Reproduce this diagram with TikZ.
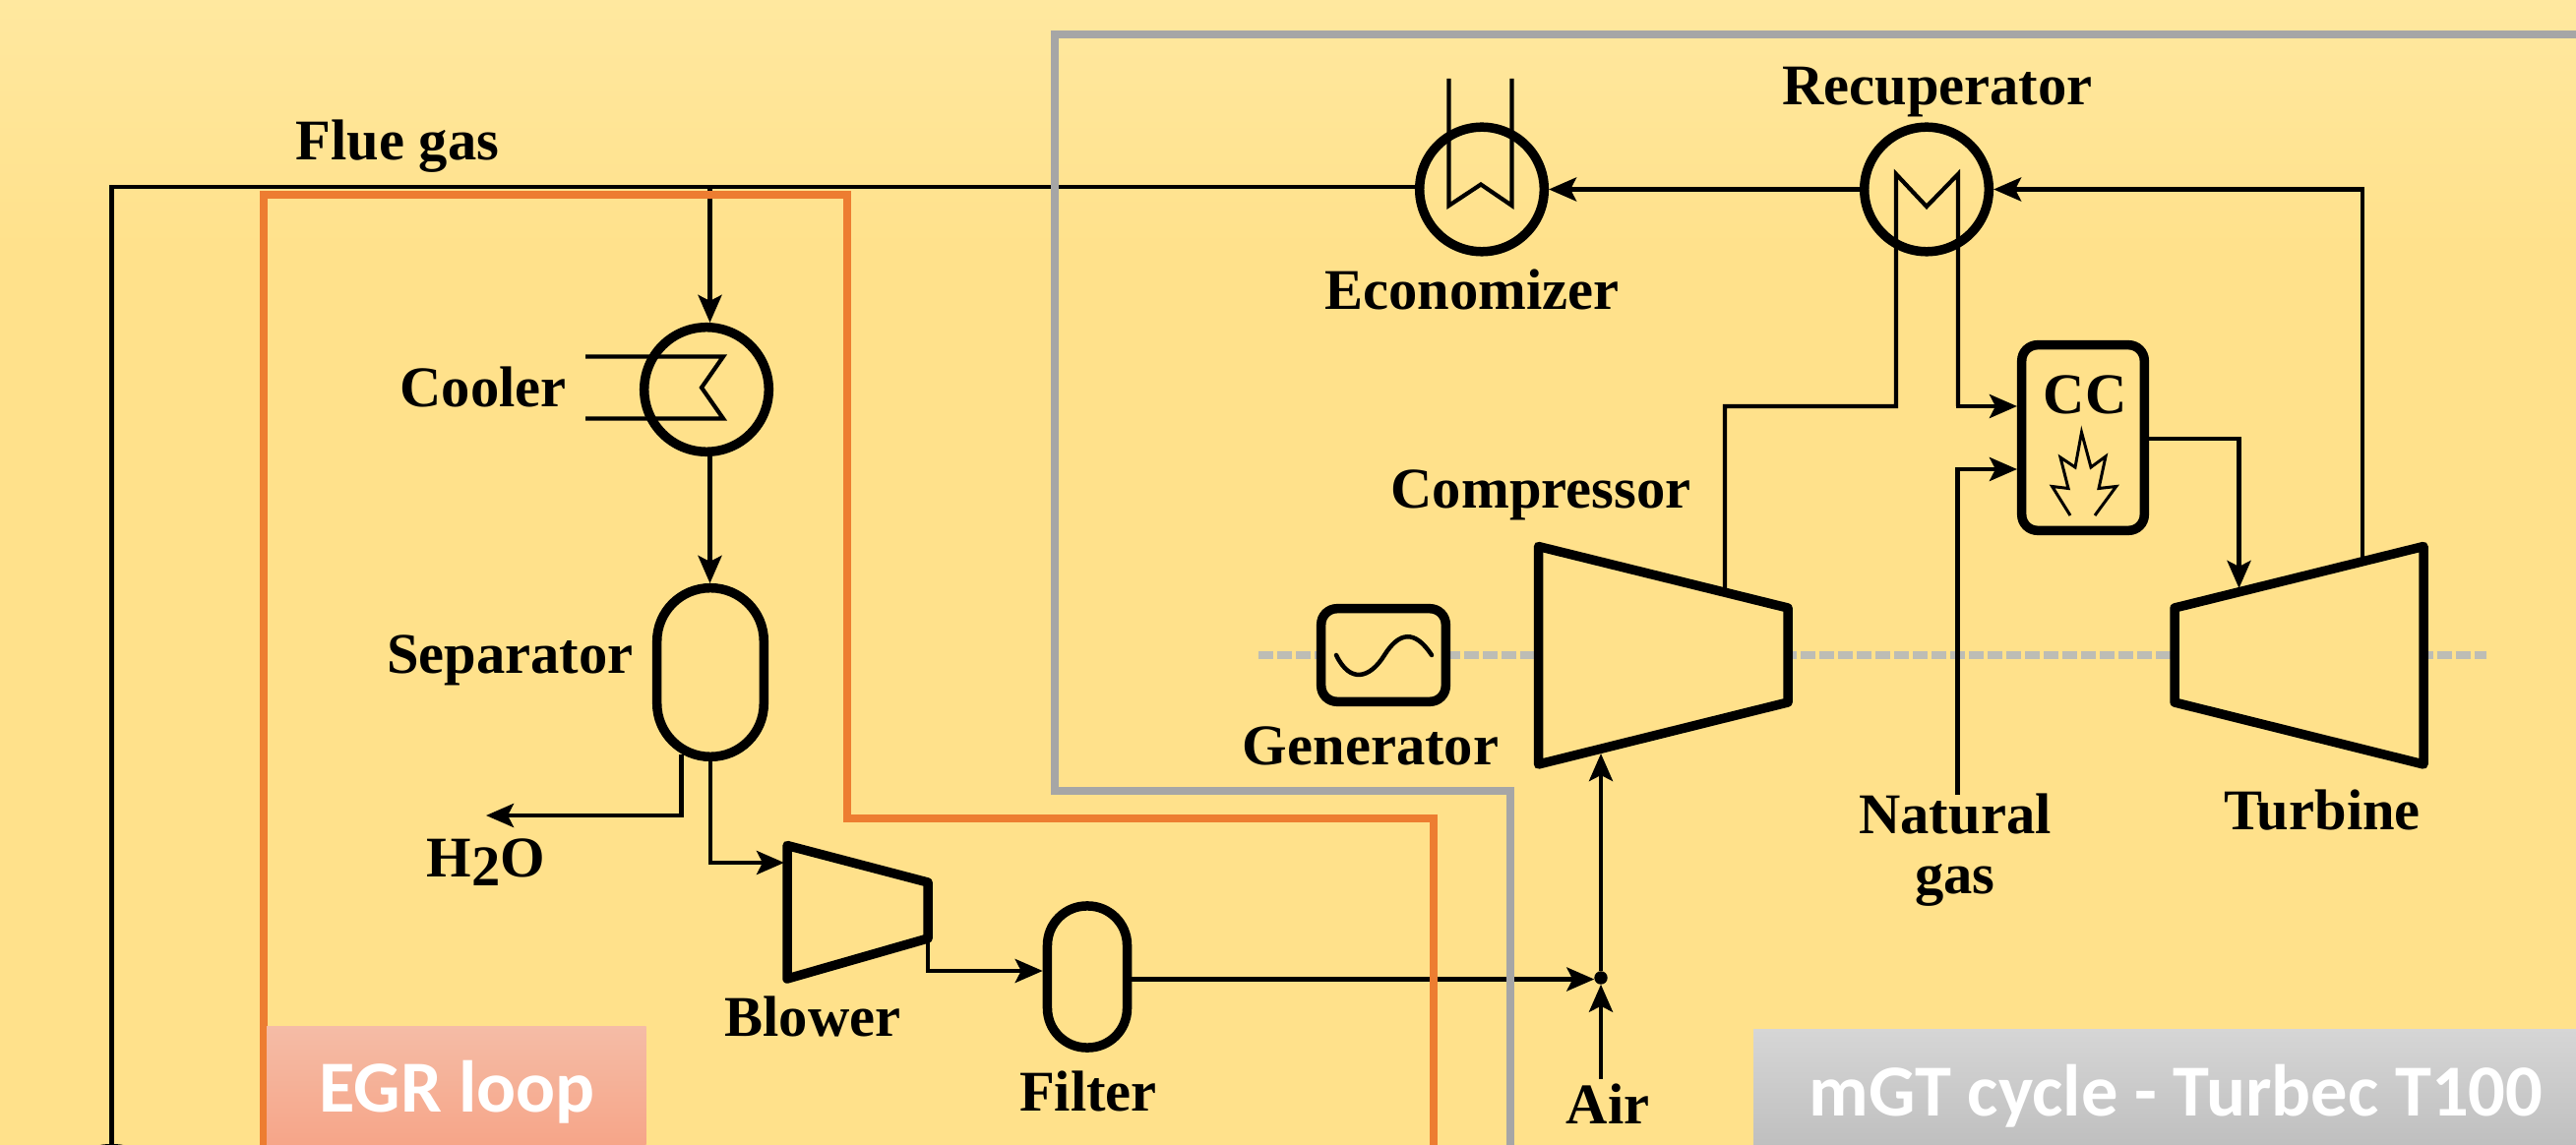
\documentclass[tikz,border=0pt]{standalone}
\usepackage{fontspec}
\setmainfont{Liberation Serif}
\newfontfamily\boxfont{Carlito}
\usetikzlibrary{arrows.meta,calc}
\tikzset{
  equip/.style={draw=black,line width=0.095cm,fill=bgyellow,inner sep=0pt},
  vessel/.style={equip,circle,minimum size=1.265cm},
  box/.style={equip,rectangle,rounded corners=0.16cm},
  turbo/.style={draw=black,line width=0.095cm,fill=bgyellow,line join=round},
  pipe/.style={draw=black,line width=0.045cm,line join=miter},
  flow/.style={pipe,-{Stealth[length=2.8mm,width=2.4mm,inset=0.6mm]}},
  tube/.style={draw=black,line width=0.042cm,line join=miter},
  frameorange/.style={draw=frameO,line width=0.085cm,line join=miter},
  framegray/.style={draw=frameG,line width=0.085cm,line join=miter},
  shaft/.style={draw=shaftgray,line width=0.07cm,dash pattern=on 0.15cm off 0.04cm},
  lab/.style={font=\fontsize{16.65}{17.1}\selectfont\bfseries,inner sep=0pt,anchor=base,text=black},
  tag/.style={font=\boxfont\fontsize{21.2}{24}\selectfont\bfseries,inner sep=0pt,anchor=base,text=white},
}
\definecolor{bgyellow}{HTML}{FFE18B}
\definecolor{bgtop}{HTML}{FFE89F}
\definecolor{frameO}{HTML}{ED7D31}
\definecolor{frameG}{HTML}{A6A6A6}
\definecolor{shaftgray}{HTML}{BDBDB5}
\definecolor{egrtop}{HTML}{F5BCA6}
\definecolor{egrbot}{HTML}{F6A487}
\definecolor{mgttop}{HTML}{D6D6D6}
\definecolor{mgtbot}{HTML}{BEBEBE}
\begin{document}
\begin{tikzpicture}[x=0.01cm,y=-0.01cm]
\useasboundingbox (0,0) rectangle (2618,1164);
\clip (0,0) rectangle (2618,1164);
% background
\fill[bgyellow] (0,0) rectangle (2618,1164);
\shade[top color=bgtop,bottom color=bgyellow] (0,0) rectangle (2618,260);
% shaft
\coordinate (shaftL) at (1279,666);
\coordinate (shaftR) at (2527,666);
\draw[shaft] (shaftL) -- (shaftR);
% equipment
\node[vessel] (cooler) at (718,396) {};
\node[vessel,fill=none] (econ) at (1506,192.5) {};
\node[vessel,fill=none] (recup) at (1958,192.5) {};
\node[equip,rectangle,rounded corners=0.54cm,minimum width=1.085cm,minimum height=1.715cm] (sep) at (722,683.5) {};
\node[equip,rectangle,rounded corners=0.40cm,minimum width=0.81cm,minimum height=1.44cm] (filter) at (1105,993) {};
\node[box,minimum width=1.245cm,minimum height=1.885cm] (cc) at (2117,445) {};
\node[box,minimum width=1.265cm,minimum height=0.945cm] (gen) at (1406,666) {};
% turbomachines
\path[turbo] (800,859.5) -- (943,897) -- (943,954) -- (800,995) -- cycle;
\path[turbo] (1563.5,555.5) -- (1817,618) -- (1817,714) -- (1563.5,777) -- cycle;
\path[turbo] (2210,618) -- (2463,555.5) -- (2463,777) -- (2210,714) -- cycle;
% ports
\coordinate (blowerIn) at (797,877);
\coordinate (blowerOut) at (943,956);
\coordinate (compIn) at (1627,766);
\coordinate (compOut) at (1753,600);
\coordinate (turbIn) at (2275.5,598);
\coordinate (turbOut) at (2401,570);
% heat exchanger tubes
\draw[tube] (595,362.5) -- (735,362.5) -- (713,394) -- (735,425.5) -- (595,425.5);
\draw[tube] (1472.5,80) -- (1472.5,209) -- (1505,187.5) -- (1536.5,209) -- (1536.5,80);
% generator sine
\draw[line width=0.045cm,line cap=round] (1358,666) .. controls (1372,695) and (1392,690) .. (1407,666) .. controls (1422,642) and (1438,640) .. (1455,666);
% flame
\draw[line width=0.03cm,line join=miter] (2104,524) -- (2085.6,494.5) -- (2102,496.5) -- (2094,465) -- (2109,475) -- (2115.5,439.5) -- (2125,475) -- (2140,464) -- (2133,496.5) -- (2150.7,494.5) -- (2129,524);
% connectors
\coordinate (fj) at (721.5,190);
\coordinate (dropL) at (113.5,190);
\coordinate (dropB) at (113.5,1166);
\draw[pipe] (econ.west |- fj) -- (dropL) -- (dropB);
\fill (dropB) ellipse [x radius=0.16cm,y radius=0.03cm];
\draw[flow] (fj) -- (fj |- cooler.north);
\draw[flow] (fj |- cooler.south) -- (fj |- sep.north);
\coordinate (sepW) at (692.5,767);
\coordinate (waterTip) at (494,829);
\draw[flow] (sepW) |- (waterTip);
\draw[flow] (sep.south) |- (blowerIn);
\draw[flow] (blowerOut) |- (filter.west |- 0,987);
\node[draw,fill=black,circle,inner sep=0pt,minimum size=0.12cm] (mix) at (1627,994) {};
\coordinate (airSrc) at (1627,1097);
\draw[flow] (filter.east |- 0,995.5) -- (mix.west |- 0,995.5);
\draw[flow] (airSrc) -- (mix.south);
\draw[flow] (mix.north) -- (compIn);
\draw[flow] (recup.west) -- (econ.east);
\coordinate (turbTop) at (2401,192.5);
\draw[flow] (turbOut) -- (turbTop) -- (recup.east);
\coordinate (rl) at (1927,177);
\coordinate (rr) at (1990,177);
\draw[tube] (compOut) |- (1927,413) -- (rl) -- (1958,210) -- (rr) -- (1990,413);
\draw[flow] (rr) -- (1990,413) -- (cc.west |- 0,413);
\coordinate (ngSrc) at (1989.5,808);
\draw[flow] (ngSrc) |- (cc.west |- 0,477);
\draw[flow] (cc.east |- 0,446) -| (turbIn);
% frames
\draw[frameorange] (268,1180) -- (268,198) -- (861,198) -- (861,832) -- (1457,832) -- (1457,1180);
\draw[framegray] (2640,35) -- (1072,35) -- (1072,804) -- (1535,804) -- (1535,1180);
% tag boxes
\shade[top color=egrtop,bottom color=egrbot] (271,1043) rectangle (656.5,1170);
\shade[top color=mgttop,bottom color=mgtbot] (1782,1046) rectangle (2620,1170);
\node[tag] (egr) at (464.5,1130.5) {EGR loop};
\node[tag] (mgt) at (2211.5,1134) {mGT cycle - Turbec T100};
% labels
\node[lab] (lflue) at (404,163) {Flue gas};
\node[lab] (lcool) at (491,414) {Cooler};
\node[lab] (lecon) at (1496,315) {Economizer};
\node[lab] (lrec) at (1969,107) {Recuperator};
\node[lab] (lcomp) at (1566,516) {Compressor};
\node[lab] (lcc) at (2119,421) {CC};
\node[lab] (lsep) at (518.5,684.5) {Separator};
\node[lab] (lwater) at (494,891) {H\raisebox{-0.17em}{2}O};
\node[lab] (lblow) at (826,1053) {Blower};
\node[lab] (lfilt) at (1106,1129) {Filter};
\node[lab] (lgen) at (1393,777) {Generator};
\node[lab,align=center] (lng) at (1987,908) {Natural\\gas};
\node[lab] (ltur) at (2360,843) {Turbine};
\node[lab] (lair) at (1634,1142) {Air};
\end{tikzpicture}
\end{document}
